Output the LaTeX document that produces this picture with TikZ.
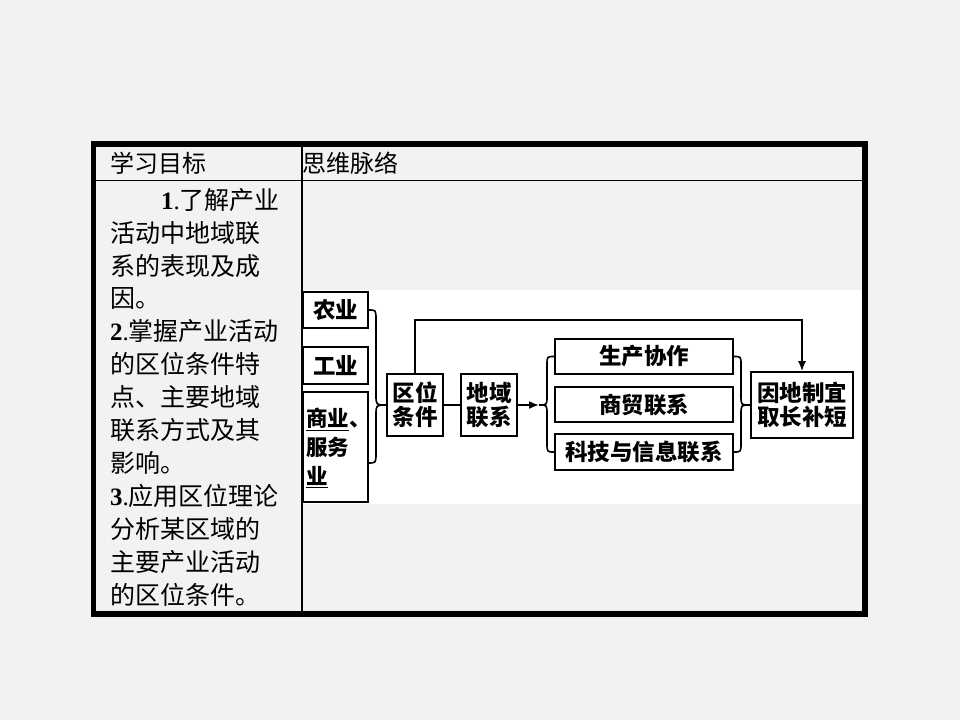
\documentclass[tikz,border=0pt]{standalone}
\usepackage{fontspec}
\setmainfont{Noto Sans CJK SC}
\newfontfamily\numfont{Liberation Serif}
\usetikzlibrary{arrows.meta}
\definecolor{bg}{HTML}{F2F2F2}
\tikzset{
  dbox/.style={draw, line width=1.7pt, inner sep=0pt, align=center, font=\fontsize{22.5}{24}\selectfont\bfseries},
  conn/.style={line width=1.6pt},
  brc/.style={line width=1.6pt},
  arr/.style={-{Latex[length=10pt,width=8pt]}},
}
\begin{document}
\begin{tikzpicture}[x=1pt,y=-1pt]
\useasboundingbox (0,0) rectangle (960,720);
\fill[bg] (0,0) rectangle (960,720);
\fill[white] (302.5,290) rectangle (862,504);
% table
\draw[line width=5.5pt] (93.5,144) rectangle (865,614);
\draw[line width=1.2pt] (96,180.5) -- (862,180.5);
\draw[line width=2pt] (301.5,147) -- (301.5,611);
% header
\node[anchor=west, inner sep=0pt, font=\fontsize{24}{24}\selectfont] (h1) at (110,163.5) {学习目标};
\node[anchor=west, inner sep=0pt, font=\fontsize{24}{24}\selectfont] (h2) at (302,163.5) {思维脉络};
% goals
\node[anchor=base west, inner sep=0pt, align=left, font=\fontsize{25}{32.9}\selectfont] (goals) at (110,604) {%
\hspace*{51pt}{\numfont\textbf{1}.}了解产业\\
活动中地域联\\
系的表现及成\\
因。\\
{\numfont\textbf{2}.}掌握产业活动\\
的区位条件特\\
点、主要地域\\
联系方式及其\\
影响。\\
{\numfont\textbf{3}.}应用区位理论\\
分析某区域的\\
主要产业活动\\
的区位条件。};
% diagram boxes
\node[dbox, minimum width=65pt, minimum height=36pt] (nongye) at (335.5,310) {农业};
\node[dbox, minimum width=65pt, minimum height=37pt] (gongye) at (335.5,365.5) {工业};
\node[dbox, minimum width=65pt, minimum height=110pt] (shangye) at (335.5,447) {};
\node[anchor=north west, inner sep=0pt, align=left, font=\fontsize{21.5}{29}\selectfont\bfseries] (shangtxt) at (306,408) {\underline{商业}、\\服务\\\underline{业}};
\node[dbox, minimum width=56pt, minimum height=62pt] (quwei) at (415,405) {区位\\条件};
\node[dbox, minimum width=56pt, minimum height=62pt] (diyu) at (489,405) {地域\\联系};
\node[dbox, minimum width=178pt, minimum height=35pt] (sc) at (644,356.5) {生产协作};
\node[dbox, minimum width=178pt, minimum height=35pt] (sm) at (644,404.5) {商贸联系};
\node[dbox, minimum width=178pt, minimum height=36pt] (kj) at (644,452) {科技与信息联系};
\node[dbox, minimum width=102pt, minimum height=66pt] (yd) at (802,405) {因地制宜\\取长补短};
% connectors
\coordinate (tipA) at (539,405);
\coordinate (b1bot) at (368,463);
\coordinate (topy) at (0,320);
\draw[conn] (quwei) -- (diyu);
\draw[conn, arr] (diyu) -- (tipA);
\draw[conn, arr] (quwei.north) -- (quwei.north |- topy) -- (yd.north |- topy) -- (yd.north);
% braces
\draw[brc] (nongye.east) .. controls (376,310) .. (376,320) -- (376,395) .. controls (376,405) .. (quwei.west)
  .. controls (376,405) .. (376,415) -- (376,453) .. controls (376,463) .. (b1bot);
\draw[brc] (sc.west) .. controls (547,356.5) .. (547,365) -- (547,396) .. controls (547,405) .. (tipA)
  .. controls (547,405) .. (547,414) -- (547,443) .. controls (547,452) .. (kj.west);
\draw[brc] (sc.east) .. controls (741,356.5) .. (741,365) -- (741,396) .. controls (741,405) .. (yd.west)
  .. controls (741,405) .. (741,414) -- (741,443) .. controls (741,452) .. (kj.east);
\end{tikzpicture}
\end{document}
